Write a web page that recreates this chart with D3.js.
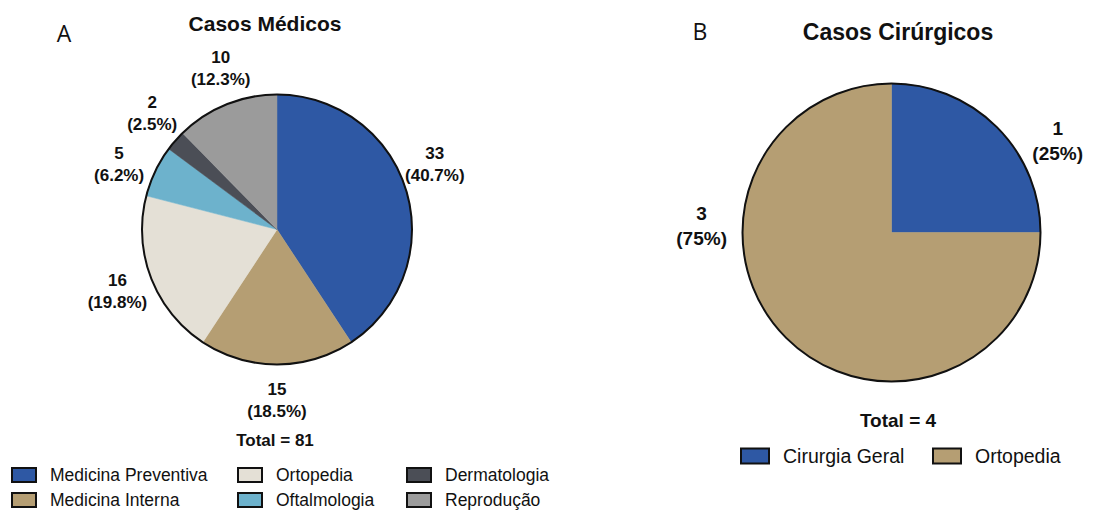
<!DOCTYPE html>
<html>
<head>
<meta charset="utf-8">
<script src="https://cdn.jsdelivr.net/npm/d3@7"></script>
<style>
  html, body { margin: 0; padding: 0; background: #ffffff; }
  svg { display: block; }
</style>
</head>
<body>
<svg id="chart" width="1093" height="513"></svg>
<script>
// Medical cases (panel A)
const medCategories = ["Medicina Preventiva", "Medicina Interna", "Ortopedia", "Oftalmologia", "Dermatologia", "Reprodução"];
const medValues = [33, 15, 16, 5, 2, 10];
const medColors = ["#2e58a4", "#b59e73", "#e4e0d6", "#6db2cc", "#4b4e56", "#9b9b9b"];
// small angular nudges (degrees) applied to the value labels
const medLabelNudge = [-6, 0, 0, -3, 2, 3];

// Surgical cases (panel B)
const surgCategories = ["Cirurgia Geral", "Ortopedia"];
const surgValues = [1, 3];
const surgColors = ["#2e58a4", "#b59e73"];
const surgLabelNudge = [16, 47];

const svg = d3.select("#chart");
const FONT = "'Liberation Sans', Arial, Helvetica, sans-serif";

function drawPie(cfg) {
  const g = svg.append("g");
  const total = d3.sum(cfg.values);
  const data = cfg.categories.map((c, i) => ({ cat: c, value: cfg.values[i], color: cfg.colors[i], nudge: cfg.nudge[i] }));

  const pie = d3.pie().value(d => d.value).sort(null);
  const arcs = pie(data);
  const arc = d3.arc().innerRadius(0).outerRadius(cfg.r);

  const pieG = g.append("g").attr("transform", `translate(${cfg.cx},${cfg.cy})`);
  pieG.selectAll("path.slice")
    .data(arcs)
    .join("path")
    .attr("class", "slice")
    .attr("d", arc)
    .attr("fill", d => d.data.color)
    .attr("stroke", d => d.data.color)
    .attr("stroke-width", 0.5);

  // outer rim
  pieG.append("circle")
    .attr("r", cfg.r)
    .attr("fill", "none")
    .attr("stroke", "#111")
    .attr("stroke-width", 2);

  // value labels
  const fmt = d3.format(`.${cfg.decimals}f`);
  const lab = pieG.selectAll("text.val")
    .data(arcs)
    .join("text")
    .attr("class", "val")
    .attr("font-family", FONT)
    .attr("font-weight", "bold")
    .attr("font-size", cfg.labelSize)
    .attr("fill", "#111")
    .attr("text-anchor", "middle")
    .attr("transform", d => {
      const a = (d.startAngle + d.endAngle) / 2 + d.data.nudge * Math.PI / 180;
      const x = Math.sin(a) * cfg.labelR;
      const y = -Math.cos(a) * cfg.labelR;
      return `translate(${x},${y})`;
    });
  lab.append("tspan")
    .attr("x", 0)
    .attr("dy", -cfg.lineGap / 2 + cfg.labelSize * 0.35)
    .text(d => d.data.value);
  lab.append("tspan")
    .attr("x", 0)
    .attr("dy", cfg.lineGap)
    .text(d => `(${fmt(d.data.value / total * 100)}%)`);

  // title and panel letter
  g.append("text")
    .attr("x", cfg.titleX).attr("y", cfg.titleY)
    .attr("text-anchor", "middle")
    .attr("font-family", FONT).attr("font-weight", "bold")
    .attr("font-size", cfg.titleSize).attr("fill", "#111")
    .text(cfg.title);
  g.append("text")
    .attr("x", cfg.letterX).attr("y", cfg.letterY)
    .attr("text-anchor", "middle")
    .attr("font-family", "'Open Sans', 'Liberation Sans', sans-serif")
    .attr("font-size", 23).attr("fill", "#111")
    .text(cfg.letter);

  // total
  g.append("text")
    .attr("x", cfg.totalX).attr("y", cfg.totalY)
    .attr("text-anchor", "middle")
    .attr("font-family", FONT).attr("font-weight", "bold")
    .attr("font-size", cfg.totalSize).attr("fill", "#111")
    .text(`Total = ${total}`);

  // legend
  const leg = g.selectAll("g.leg")
    .data(data)
    .join("g")
    .attr("class", "leg")
    .attr("transform", (d, i) => `translate(${cfg.legCols[Math.floor(i / cfg.legRows.length)]},${cfg.legRows[i % cfg.legRows.length]})`);
  leg.append("rect")
    .attr("x", 0).attr("y", -cfg.swH / 2)
    .attr("width", cfg.swW).attr("height", cfg.swH)
    .attr("fill", d => d.color)
    .attr("stroke", "#111").attr("stroke-width", 2);
  leg.append("text")
    .attr("x", cfg.textOff).attr("y", 0)
    .attr("dy", "0.36em")
    .attr("font-family", FONT)
    .attr("font-size", cfg.legSize).attr("fill", "#111")
    .text(d => d.cat);
}

drawPie({
  categories: medCategories, values: medValues, colors: medColors, nudge: medLabelNudge,
  cx: 277, cy: 229.5, r: 135, labelR: 171, labelSize: 17, lineGap: 22, decimals: 1,
  title: "Casos Médicos", titleX: 265, titleY: 31, titleSize: 21,
  letter: "A", letterX: 64, letterY: 42,
  totalX: 275, totalY: 446, totalSize: 17,
  legRows: [475, 500], legCols: [12, 238, 407], swW: 24, swH: 14, textOff: 38, legSize: 17.5
});

drawPie({
  categories: surgCategories, values: surgValues, colors: surgColors, nudge: surgLabelNudge,
  cx: 891.5, cy: 232.5, r: 149, labelR: 190, labelSize: 19, lineGap: 25, decimals: 0,
  title: "Casos Cirúrgicos", titleX: 898, titleY: 40, titleSize: 23,
  letter: "B", letterX: 700, letterY: 40,
  totalX: 898, totalY: 427, totalSize: 19,
  legRows: [456], legCols: [741, 933], swW: 28, swH: 15, textOff: 42, legSize: 19.5
});
</script>
</body>
</html>
